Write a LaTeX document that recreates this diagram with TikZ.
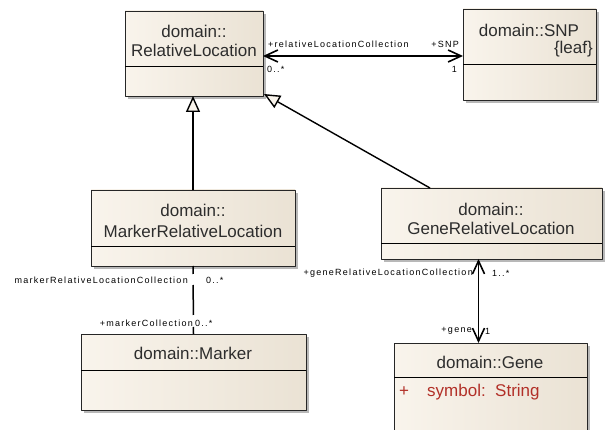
\documentclass[tikz,border=0pt]{standalone}
\usepackage{fontspec}
\setmainfont{Liberation Sans}
\newfontfamily\lblfont[LetterSpace=14]{Liberation Sans}
\usepackage{tikz}
\usetikzlibrary{arrows.meta,positioning,calc}

\definecolor{clsL}{RGB}{249,244,236}
\definecolor{clsR}{RGB}{234,226,212}
\definecolor{clsText}{RGB}{45,45,45}
\definecolor{attrRed}{RGB}{178,48,40}

\begin{document}
\begin{tikzpicture}[x=1pt, y=-1pt, >=Latex, line join=round,
  classbox/.style={draw=black!85, line width=0.8pt, left color=clsL, right color=clsR,
    inner sep=0pt, outer sep=0pt, anchor=north west},
  shadowbox/.style={fill=black!28, draw=none},
  title/.style={text=clsText, font=\fontsize{17}{18}\selectfont, inner sep=0pt},
  lbl/.style={text=black, font=\lblfont\fontsize{9}{10}\selectfont, inner sep=0pt},
  assoc/.style={line width=1.6pt},
  nav/.style={assoc, {Straight Barb[length=13pt,width=12pt]}-{Straight Barb[length=13pt,width=12pt]}},
  inherit/.style={line width=1.4pt, -{Triangle[length=16pt,width=14pt,fill=clsL]}}]

\useasboundingbox (0,0) rectangle (605,430);

% --- drop shadows under the classes ---
\fill[shadowbox] (128,14) rectangle (266,99);
\fill[shadowbox] (466,12) rectangle (599,103);
\fill[shadowbox] (94,193) rectangle (298,269);
\fill[shadowbox] (384,191) rectangle (605,262);
\fill[shadowbox] (84,337) rectangle (309,413);
\fill[shadowbox] (397,346) rectangle (590,448);

% ------------------ classes ------------------
\node[classbox, minimum width=138pt, minimum height=85pt] (relloc) at (125,11) {};
\draw[line width=0.8pt] (relloc.west |- 0,66) -- (relloc.east |- 0,66);
\node[title] (rellocA) at (194,31) {domain::};
\node[title] (rellocB) at (194,50) {RelativeLocation};

\node[classbox, minimum width=133pt, minimum height=91pt] (snp) at (463,9) {};
\draw[line width=0.8pt] (snp.west |- 0,64) -- (snp.east |- 0,64);
\node[title] (snpA) at (529,30) {domain::SNP};
\node[title, anchor=east] (snpB) at (593,49) {\{leaf\}};

\node[classbox, minimum width=204pt, minimum height=76pt] (mrl) at (91,190) {};
\draw[line width=0.8pt] (mrl.west |- 0,246) -- (mrl.east |- 0,246);
\node[title] (mrlA) at (193,210) {domain::};
\node[title] (mrlB) at (193,231) {MarkerRelativeLocation};

\node[classbox, minimum width=221pt, minimum height=71pt] (grl) at (381,188) {};
\draw[line width=0.8pt] (grl.west |- 0,243) -- (grl.east |- 0,243);
\node[title] (grlA) at (491,209) {domain::};
\node[title] (grlB) at (491,228) {GeneRelativeLocation};

\node[classbox, minimum width=225pt, minimum height=76pt] (marker) at (81,334) {};
\draw[line width=0.8pt] (marker.west |- 0,370) -- (marker.east |- 0,370);
\node[title] (markerA) at (193,353) {domain::Marker};

\node[classbox, minimum width=193pt, minimum height=102pt] (gene) at (394,343) {};
\draw[line width=0.8pt] (gene.west |- 0,377) -- (gene.east |- 0,377);
\node[title] (geneA) at (490,362) {domain::Gene};
\node[title, text=attrRed] (geneP) at (404,392) {+};
\node[title, text=attrRed, anchor=west] (geneS) at (427,392) {symbol:\ \ String};

% ------------------ generalizations ------------------
\draw[inherit] (mrl.north) -- (mrl.north |- relloc.south);
\coordinate (gtop) at (430,188);
\draw[inherit] (gtop) -- ($(relloc.south east)+(1,-2)$);

% ------------------ associations ------------------
\draw[nav] (relloc.east |- 0,56) -- (snp.west |- 0,56);
\node[lbl, anchor=west] (rlcoll) at (268,44) {+relativeLocationCollection};
\node[lbl, anchor=west] (rlmult) at (267,69) {0..*};
\node[lbl, anchor=east] (snprole) at (459,44) {+SNP};
\node[lbl, anchor=east] (snpmult) at (457,69) {1};

% marker side: labels sit on gaps of the line
\draw[assoc, line width=1.5pt, dash pattern=on 8pt off 11pt on 30pt off 12pt on 12pt]
  (mrl.south) -- (marker.north);
\node[lbl, anchor=east] (mrlcoll) at (188,280) {markerRelativeLocationCollection};
\node[lbl, anchor=west] (mrlmult) at (206,280) {0..*};
\node[lbl, anchor=east] (mkcoll) at (193,323) {+markerCollection};
\node[lbl, anchor=west] (mkmult) at (195,323) {0..*};

\draw[nav] ([xshift=-13pt]grl.south) -- ([xshift=-12pt]gene.north);
\node[lbl, anchor=east] (grlcoll) at (473,273) {+geneRelativeLocationCollection};
\node[lbl, anchor=west] (grlmult) at (492,273) {1..*};
\node[lbl, anchor=east] (generole) at (472,331) {+gene};
\node[lbl, anchor=west] (genemult) at (485,331) {1};

\end{tikzpicture}
\end{document}
